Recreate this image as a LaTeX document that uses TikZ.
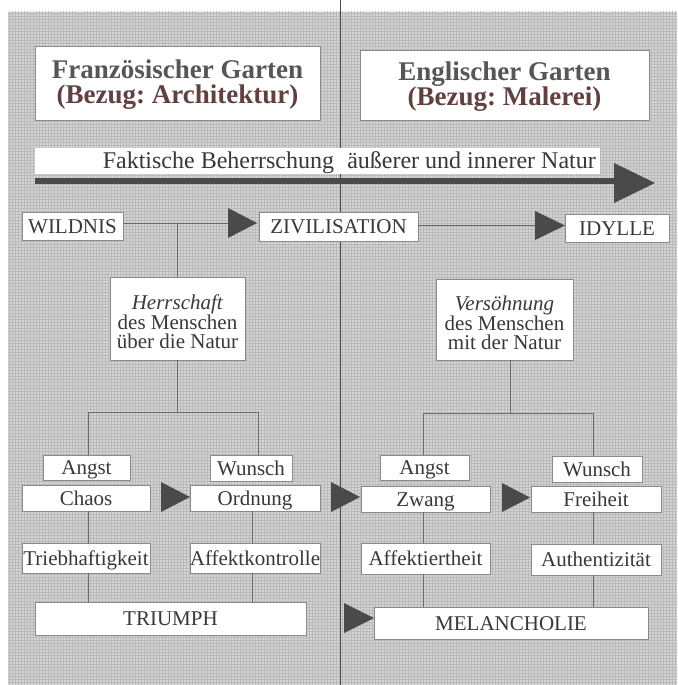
\documentclass[tikz,border=0pt]{standalone}
\usepackage{fontspec}
\setmainfont{Liberation Serif}
\usetikzlibrary{patterns}
\definecolor{bg}{HTML}{D4D4D4}
\definecolor{bggrid}{HTML}{BABABA}
\definecolor{dark}{HTML}{4A4A4A}
\definecolor{txt}{HTML}{383838}
\definecolor{ttlred}{HTML}{604040}
\definecolor{boxline}{HTML}{8A8A8A}
\definecolor{conn}{HTML}{6A6A6A}
\newcommand\lblfont{\fontsize{21}{19}\selectfont}
\newcommand\ttlfont{\fontsize{27}{25}\selectfont\bfseries}
\frenchspacing
\begin{document}
\begin{tikzpicture}[x=1pt,y=-1pt,
  bx/.style={draw=boxline,fill=white,line width=0.6pt,inner sep=0pt,font=\lblfont,text=txt,text height=16pt,text depth=2pt},
  mbx/.style={draw=boxline,fill=white,line width=0.6pt,inner sep=0pt,font=\lblfont,text=txt,align=center},
  cn/.style={draw=conn,line width=0.6pt},
  tri/.style={fill=dark}]
\useasboundingbox (0,0) rectangle (677,685);
\fill[bg] (8,12) rectangle (677,685);
\fill[pattern=grid,pattern color=bggrid] (8,12) rectangle (677,685);
\draw[dark,line width=0.8pt] (340,0) -- (340,685);

% titles
\node[mbx,minimum width=285pt,minimum height=74pt,font=\ttlfont] (tl) at (177.5,83)
  {\rule{0pt}{21pt}\textcolor{txt!85!white}{Französischer Garten}\\\textcolor{ttlred}{(Bezug: Architektur)}};
\node[mbx,minimum width=289pt,minimum height=70pt,font=\ttlfont] (tr) at (504.5,85)
  {\rule{0pt}{21pt}\textcolor{txt!85!white}{Englischer Garten}\\\textcolor{ttlred}{(Bezug: Malerei)}};

% band
\node[draw=none,fill=white,minimum width=565pt,minimum height=26pt,inner sep=0pt] (band) at (317.5,161) {};
\node[anchor=base east,inner sep=0pt,font=\fontsize{24}{24}\selectfont,text=txt] (bandtxt) at (596,168)
  {Faktische Beherrschung\hspace{0.3em} äußerer und innerer Natur};
\fill[dark] (35,178) rectangle (616,184);
\coordinate (bt1) at (614,163); \coordinate (bt2) at (614,203); \coordinate (btip) at (655,183);
\fill[dark] (bt1) -- (btip) -- (bt2) -- cycle;

% first row
\node[bx,minimum width=101pt,minimum height=28pt] (wild) at (72.5,226) {WILDNIS};
\node[bx,minimum width=159pt,minimum height=29pt] (ziv) at (338.5,226.5) {ZIVILISATION};
\node[bx,minimum width=104pt,minimum height=28pt] (idy) at (617,228) {IDYLLE};
\coordinate (a1) at (228,208); \coordinate (a1b) at (228,238); \coordinate (a1t) at (257,223);
\coordinate (a1m) at (228,223);
\coordinate (a2) at (535,211); \coordinate (a2b) at (535,240); \coordinate (a2t) at (565,225.5);
\coordinate (a2m) at (535,225.5);

% middle boxes
\node[mbx,minimum width=135pt,minimum height=83pt] (herr) at (177.5,318.5)
  {\rule{0pt}{21pt}\textit{Herrschaft}\\des Menschen\\über die Natur};
\node[mbx,minimum width=137pt,minimum height=81pt] (vers) at (504.5,319.5)
  {\rule{0pt}{21pt}\textit{Versöhnung}\\des Menschen\\mit der Natur};

% lower boxes
\node[bx,minimum width=87pt,minimum height=25pt] (angL) at (86.5,467.5) {Angst};
\node[bx,minimum width=128pt,minimum height=26pt] (chaos) at (86,498) {Chaos};
\node[bx,minimum width=82pt,minimum height=26pt] (wunL) at (251,468) {Wunsch};
\node[bx,minimum width=130pt,minimum height=26pt] (ord) at (255,498) {Ordnung};
\node[bx,minimum width=128pt,minimum height=30pt] (trieb) at (86,558) {Triebhaftigkeit};
\node[bx,minimum width=130pt,minimum height=30pt] (affk) at (255,558) {Affektkontrolle};
\node[bx,minimum width=271pt,minimum height=33pt] (triumph) at (170.5,618.5) {TRIUMPH};

\node[bx,minimum width=89pt,minimum height=25pt] (angR) at (424.5,467.5) {Angst};
\node[bx,minimum width=129pt,minimum height=26pt] (zwang) at (425.5,499) {Zwang};
\node[bx,minimum width=90pt,minimum height=26pt] (wunR) at (597,469) {Wunsch};
\node[bx,minimum width=130pt,minimum height=26pt] (frei) at (596,499) {Freiheit};
\node[bx,minimum width=129pt,minimum height=31pt] (afft) at (425.5,558.5) {Affektiertheit};
\node[bx,minimum width=130pt,minimum height=31pt] (auth) at (596,559.5) {Authentizität};
\node[bx,minimum width=274pt,minimum height=32pt] (mel) at (511,623) {MELANCHOLIE};

% connectors
\draw[cn] (wild.east |- a1m) -- (a1m);
\draw[cn] (ziv.east |- a2m) -- (a2m);
\coordinate (j1) at (177,223);
\draw[cn] (j1) -- (herr.north -| j1);
\coordinate (hL) at (88,412); \coordinate (hR) at (258,412); \coordinate (hM) at (177,412);
\draw[cn] (herr.south -| hM) -- (hM);
\draw[cn] (hL) -- (hR);
\draw[cn] (hL) -- (angL.north -| hL);
\draw[cn] (hR) -- (wunL.north -| hR);
\draw[cn] (chaos.south -| hL) -- (trieb.north -| hL);
\draw[cn] (trieb.south -| hL) -- (triumph.north -| hL);
\coordinate (oX) at (252,511);
\draw[cn] (ord.south -| oX) -- (affk.north -| oX);
\draw[cn] (affk.south -| oX) -- (triumph.north -| oX);

\coordinate (kL) at (423,413); \coordinate (kR) at (593,413); \coordinate (kM) at (510,413);
\draw[cn] (vers.south -| kM) -- (kM);
\draw[cn] (kL) -- (kR);
\draw[cn] (kL) -- (angR.north -| kL);
\draw[cn] (kR) -- (wunR.north -| kR);
\draw[cn] (zwang.south -| kL) -- (afft.north -| kL);
\draw[cn] (afft.south -| kL) -- (mel.north -| kL);
\draw[cn] (frei.south -| kR) -- (auth.north -| kR);
\draw[cn] (auth.south -| kR) -- (mel.north -| kR);

% triangles
\fill[tri] (a1) -- (a1t) -- (a1b) -- cycle;
\fill[tri] (a2) -- (a2t) -- (a2b) -- cycle;
\coordinate (t3a) at (161,482); \coordinate (t3b) at (161,512); \coordinate (t3t) at (190,497);
\fill[tri] (t3a) -- (t3t) -- (t3b) -- cycle;
\coordinate (t4a) at (331,482); \coordinate (t4b) at (331,512); \coordinate (t4t) at (360,497);
\fill[tri] (t4a) -- (t4t) -- (t4b) -- cycle;
\coordinate (t5a) at (502,483); \coordinate (t5b) at (502,512); \coordinate (t5t) at (530,497.5);
\fill[tri] (t5a) -- (t5t) -- (t5b) -- cycle;
\coordinate (t6a) at (344,603); \coordinate (t6b) at (344,633); \coordinate (t6t) at (374,618);
\fill[tri] (t6a) -- (t6t) -- (t6b) -- cycle;
\end{tikzpicture}
\end{document}
